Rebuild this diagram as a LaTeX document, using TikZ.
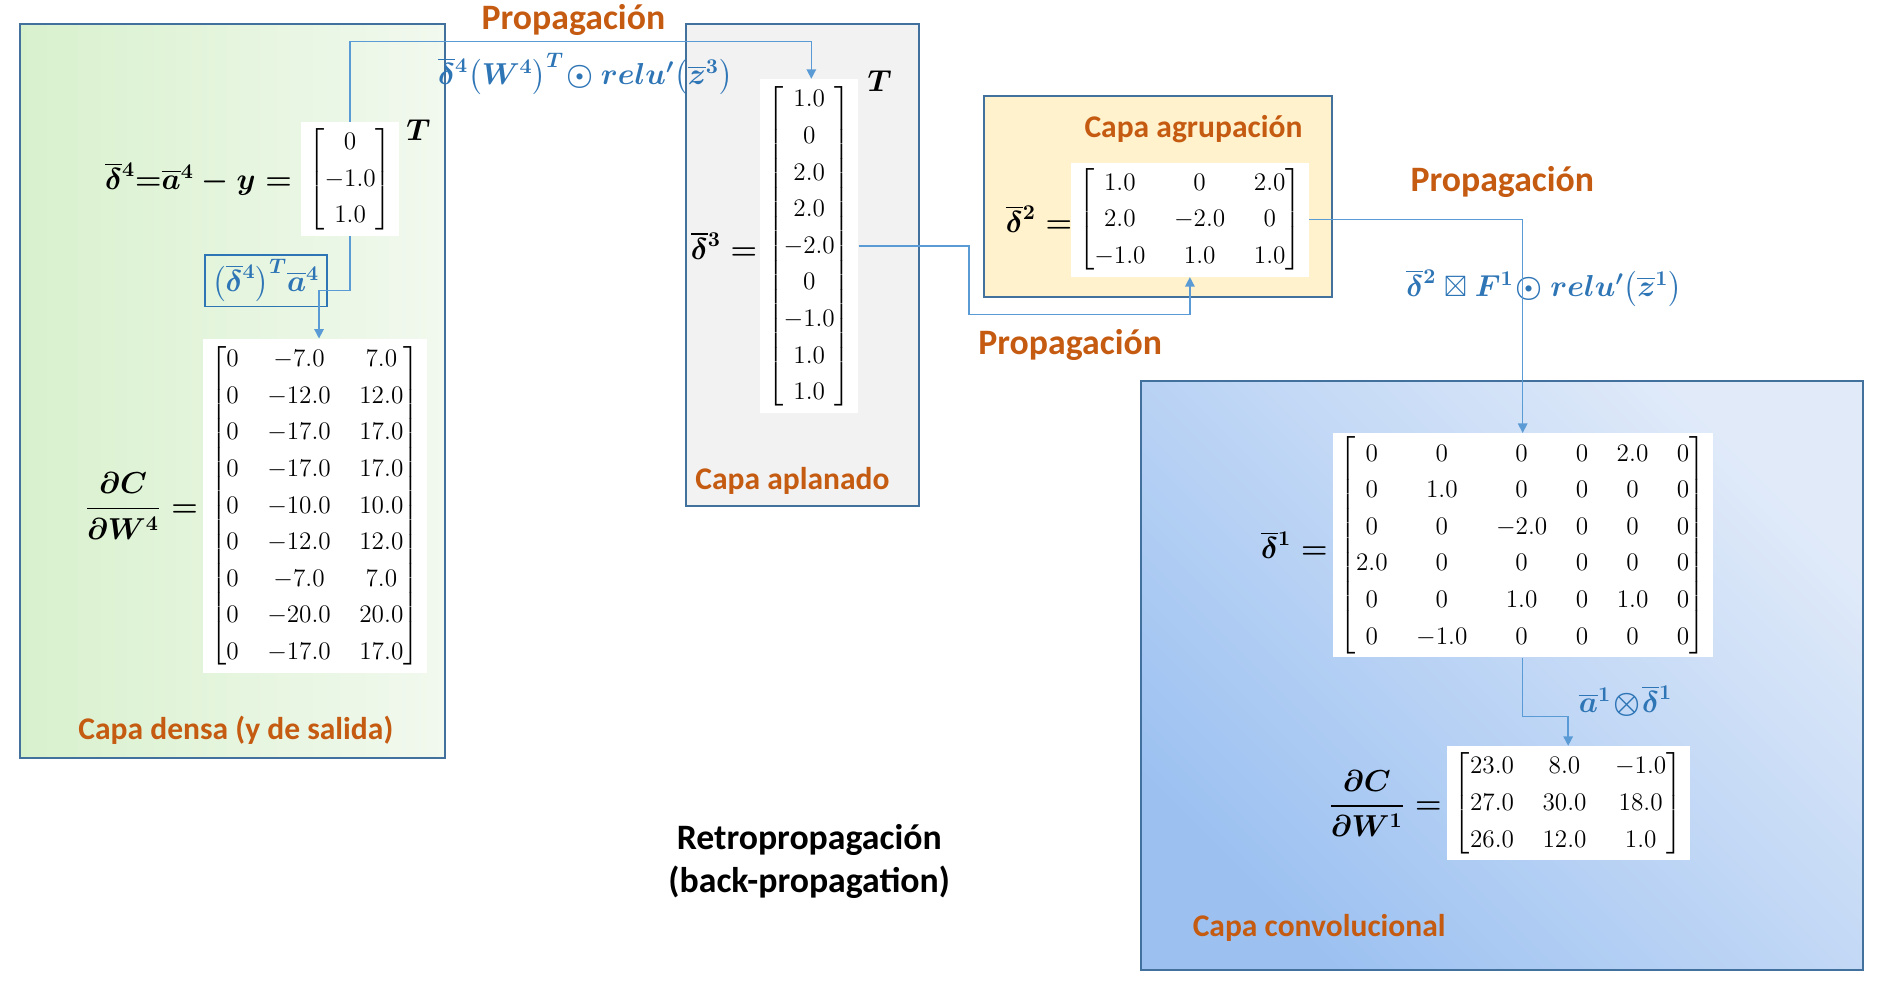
\documentclass[tikz,border=0pt]{standalone}
\usepackage{amsmath}
\usepackage{amssymb}
\usepackage{fontspec}
\usetikzlibrary{arrows.meta, positioning, calc}
\newfontfamily\carlito{Carlito}
\definecolor{inkorange}{HTML}{C55A11}
\definecolor{inkedge}{HTML}{41719C}
\definecolor{inkline}{HTML}{5B9BD5}
\definecolor{inkformula}{HTML}{2E75B6}
\definecolor{greenleft}{HTML}{D8F1CD}
\definecolor{greenright}{HTML}{F2F9EF}
\definecolor{bluedark}{HTML}{9CC1F1}
\definecolor{bluelight}{HTML}{E0EAF9}
\definecolor{sandfill}{HTML}{FFF2CC}
\definecolor{greyfill}{HTML}{F2F2F2}
\newcommand{\mtxfont}{\fontsize{11.5}{14}\selectfont
  \renewcommand{\arraystretch}{1.243}\setlength{\arraycolsep}{6.8pt}}
\newcommand{\capafont}{\carlito\bfseries\fontsize{15}{18}\selectfont}
\newcommand{\propfont}{\carlito\bfseries\fontsize{17}{20}\selectfont}
\newcommand{\eqfont}{\fontsize{14}{17}\selectfont}
\newcommand{\vb}[1]{{\smash{\overline{#1}}\vphantom{#1}}}

\begin{document}
\begin{tikzpicture}[x=0.02cm, y=-0.02cm,
      >={Triangle[length=4.5pt, width=4.5pt]},
      capa/.style={draw=inkedge, line width=1pt},
      mat/.style={fill=white, inner xsep=3.5pt, inner ysep=1pt, font=\mtxfont},
      eqn/.style={inner sep=1pt, font=\eqfont},
      formula/.style={eqn, text=inkformula},
      layername/.style={text=inkorange, font=\capafont},
      propname/.style={text=inkorange, font=\propfont},
      link/.style={->, draw=inkline, line width=0.7pt}]
    \useasboundingbox (0,0) rectangle (1568,832);
    % layers
    \shade[left color=greenleft, right color=greenright] (17,20) rectangle (372,633);
    \draw[capa] (17,20) rectangle (372,633);
    \fill[greyfill] (573,20) rectangle (768,423);
    \draw[capa] (573,20) rectangle (768,423);
    \fill[sandfill] (822,80) rectangle (1113,248);
    \draw[capa] (822,80) rectangle (1113,248);
    \shade[top color=bluelight, bottom color=bluedark, shading angle=-45] (953,318) rectangle (1556,810);
    \draw[capa] (953,318) rectangle (1556,810);
    \node[layername] (ndensa) at (197,610) {Capa densa (y de salida)};
    \node[layername] (naplan) at (662,402) {Capa aplanado};
    \node[layername] (nagrup) at (997,108) {Capa agrupación};
    \node[layername] (nconv) at (1102,775) {Capa convolucional};
    % matrices
    \node[mat] (d4) at (292.5,149.5) {$\begin{bmatrix} 0\\ -1.0\\ 1.0 \end{bmatrix}$};
    \node[eqn, anchor=west] (d4t) at ([xshift=2pt, yshift=-4pt]d4.north east) {$\boldsymbol{T}$};
    \node[eqn, left=3pt of d4] (d4l) {$\boldsymbol{\vb{\delta}^4{=}\vb{a}^4-y=}$};
    \node[mat] (dw4) at (263,422.5) {$\begin{bmatrix}
      0 & -7.0 & 7.0\\ 0 & -12.0 & 12.0\\ 0 & -17.0 & 17.0\\
      0 & -17.0 & 17.0\\ 0 & -10.0 & 10.0\\ 0 & -12.0 & 12.0\\
      0 & -7.0 & 7.0\\ 0 & -20.0 & 20.0\\ 0 & -17.0 & 17.0 \end{bmatrix}$};
    \node[eqn, left=1pt of dw4] (dw4l) {$\boldsymbol{\dfrac{\partial C}{\partial W^4}=}$};
    \node[mat] (d3) at (676,205.5) {$\begin{bmatrix}
      1.0\\ 0\\ 2.0\\ 2.0\\ -2.0\\ 0\\ -1.0\\ 1.0\\ 1.0 \end{bmatrix}$};
    \node[eqn, anchor=west] (d3t) at ([xshift=3pt, yshift=-1pt]d3.north east) {$\boldsymbol{T}$};
    \node[eqn, left=0pt of d3] (d3l) {$\boldsymbol{\vb{\delta}^3=}$};
    \node[mat] (d2) at (994,183.5) {$\begin{bmatrix}
      1.0 & 0 & 2.0\\ 2.0 & -2.0 & 0\\ -1.0 & 1.0 & 1.0 \end{bmatrix}$};
    \node[eqn, left=-2pt of d2] (d2l) {$\boldsymbol{\vb{\delta}^2=}$};
    \node[mat] (d1) at (1272,455.5) {$\begin{bmatrix}
      0 & 0 & 0 & 0 & 2.0 & 0\\ 0 & 1.0 & 0 & 0 & 0 & 0\\
      0 & 0 & -2.0 & 0 & 0 & 0\\ 2.0 & 0 & 0 & 0 & 0 & 0\\
      0 & 0 & 1.0 & 0 & 1.0 & 0\\ 0 & -1.0 & 0 & 0 & 0 & 0 \end{bmatrix}$};
    \node[eqn, left=1pt of d1] (d1l) {$\boldsymbol{\vb{\delta}^1=}$};
    \node[mat] (w1) at (1310,671) {$\begin{bmatrix}
      23.0 & 8.0 & -1.0\\ 27.0 & 30.0 & 18.0\\ 26.0 & 12.0 & 1.0 \end{bmatrix}$};
    \node[eqn, left=1pt of w1] (w1l) {$\boldsymbol{\dfrac{\partial C}{\partial W^1}=}$};
    % formulas
    \node[formula] (f3) at (489,62) {$\boldsymbol{\vb{\delta}^4\bigl(W^4\bigr)^T\!\odot relu'\bigl(\vb{z}^3\bigr)}$};
    \node[formula, draw=inkformula, line width=0.8pt, minimum width=58pt, minimum height=24.5pt] (fw4) at (222,234.5)
      {$\boldsymbol{\bigl(\vb{\delta}^4\bigr)^T\vb{a}^4}$};
    \node[formula] (f1) at (1290,241) {$\boldsymbol{\vb{\delta}^2\boxtimes F^1\!\odot relu'\bigl(\vb{z}^1\bigr)}$};
    \node[formula] (fw1) at (1358,586) {$\boldsymbol{\vb{a}^1\!\otimes\!\vb{\delta}^1}$};
    % propagation
    \node[propname] (p1) at (479,17) {Propagación};
    \node[propname] (p2) at (894,288) {Propagación};
    \node[propname] (p3) at (1255,152) {Propagación};
    \node[font=\propfont, align=center] (retro) at (676,720)
      {Retropropagación\\[0.5pt](back-propagation)};
    % connectors
    \draw[link] (d4.north) -- ++(0,-67) -| ([xshift=1pt]d3.north);
    \draw[link] (d4.south) -- ++(0,45) -| ([xshift=2pt]dw4.north);
    \draw[link] (d3.east) -- ++(92,0) -- ++(0,57) -| (d2.south);
    \draw[link] (d2.east) -| (d1.north);
    \draw[link] (d1.south) -- ++(0,49) -| (w1.north);
\end{tikzpicture}
\end{document}
